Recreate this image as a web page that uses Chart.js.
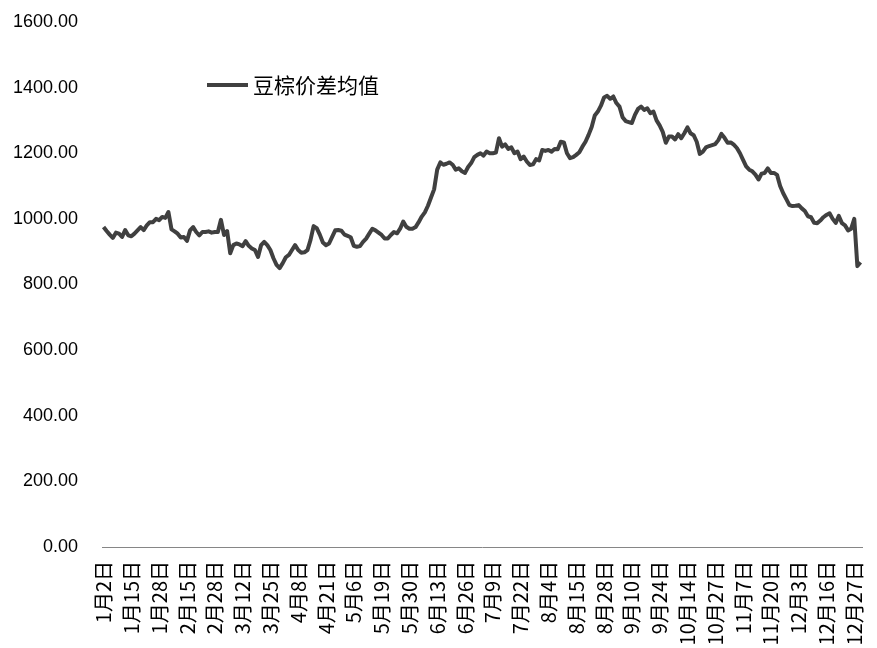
<!DOCTYPE html>
<html>
<head>
<meta charset="utf-8">
<script src="https://cdn.jsdelivr.net/npm/chart.js@4/dist/chart.umd.min.js"></script>
<style>
html,body{margin:0;padding:0;background:#fff;}
#wrap{width:877px;height:648px;position:relative;}
</style>
</head>
<body>
<div id="wrap"><canvas id="c" width="877" height="648"></canvas></div>
<script>
const seriesName = '豆棕价差均值';
const tickLabels = ['1月2日','1月15日','1月28日','2月15日','2月28日','3月12日','3月25日','4月8日','4月21日','5月6日','5月19日','5月30日','6月13日','6月26日','7月9日','7月22日','8月4日','8月15日','8月28日','9月10日','9月24日','10月14日','10月27日','11月7日','11月20日','12月3日','12月16日','12月27日'];
const tickEvery = 9;
const spread = [
  975, 963, 952, 942, 958, 955, 945, 966, 950, 947,
  955, 965, 975, 966, 980, 990, 990, 1000, 996, 1006,
  1003, 1021, 968, 962, 955, 943, 945, 933, 965, 975,
  960, 950, 960, 960, 962, 958, 960, 960, 997, 951,
  963, 895, 920, 925, 922, 917, 932, 918, 910, 905,
  884, 920, 930, 920, 905, 880, 860, 850, 865, 883,
  890, 905, 920, 905, 897, 898, 905, 936, 978, 972,
  952, 928, 920, 925, 945, 965, 966, 964, 952, 948,
  944, 918, 915, 917, 930, 940, 955, 970, 965, 958,
  951, 940, 940, 951, 960, 956, 970, 992, 976, 970,
  970, 975, 990, 1007, 1020, 1040, 1065, 1090, 1150, 1172,
  1165, 1168, 1172, 1165, 1150, 1154, 1145, 1140, 1158, 1170,
  1188, 1195, 1200, 1193, 1205, 1200, 1200, 1202, 1246, 1220,
  1227, 1213, 1218, 1200, 1205, 1182, 1190, 1175, 1164, 1166,
  1182, 1178, 1210, 1207, 1210, 1205, 1213, 1212, 1235, 1233,
  1200, 1185, 1188, 1195, 1203, 1220, 1235, 1256, 1280, 1315,
  1327, 1345, 1370, 1375, 1366, 1373, 1353, 1342, 1310, 1298,
  1295, 1292, 1317, 1335, 1342, 1332, 1337, 1322, 1327, 1300,
  1285, 1265, 1232, 1251, 1251, 1242, 1258, 1246, 1261, 1279,
  1261, 1255, 1235, 1198, 1205, 1218, 1222, 1225, 1228, 1240,
  1259, 1247, 1232, 1233, 1226, 1216, 1200, 1180, 1160, 1150,
  1145, 1135, 1120, 1138, 1140, 1154, 1140, 1140, 1134, 1100,
  1078, 1060, 1042, 1039, 1040, 1042, 1032, 1024, 1008, 1005,
  988, 987, 995, 1005, 1012, 1017, 1000, 988, 1009, 987,
  980, 965, 970, 1000, 856, 868
];
const categories = spread.map((_, i) => (i % tickEvery === 0 && tickLabels[i / tickEvery]) ? tickLabels[i / tickEvery] : '');

const lineColor = '#404040';

const legendPlugin = {
  id: 'customLegend',
  afterDraw(chart) {
    const ctx = chart.ctx;
    ctx.save();
    ctx.strokeStyle = lineColor;
    ctx.lineWidth = 4;
    ctx.lineCap = 'butt';
    ctx.beginPath();
    ctx.moveTo(207, 85);
    ctx.lineTo(248, 85);
    ctx.stroke();
    ctx.fillStyle = '#000';
    ctx.font = '21px "Noto Sans CJK SC"';
    ctx.textBaseline = 'middle';
    ctx.textAlign = 'left';
    ctx.fillText(seriesName, 253, 85);
    ctx.restore();
  }
};

new Chart(document.getElementById('c'), {
  type: 'line',
  data: {
    labels: categories,
    datasets: [{
      label: seriesName,
      data: spread,
      borderColor: lineColor,
      backgroundColor: lineColor,
      borderWidth: 4,
      pointRadius: 0,
      pointHoverRadius: 0,
      tension: 0,
      borderJoinStyle: 'round',
      fill: false
    }]
  },
  options: {
    responsive: false,
    animation: false,
    devicePixelRatio: 1,
    layout: { padding: { top: 22, right: 15, left: 0, bottom: 0 } },
    plugins: {
      legend: { display: false },
      tooltip: { enabled: false }
    },
    scales: {
      x: {
        type: 'category',
        offset: true,
        grid: { display: false, drawTicks: false },
        border: { display: true, color: '#868686', width: 1 },
        ticks: {
          autoSkip: false,
          minRotation: 90,
          maxRotation: 90,
          padding: 14,
          color: '#000',
          font: { family: '"Noto Sans CJK SC"', size: 20 }
        },
        afterFit(scale) {
          scale.height = 101;
          scale.paddingLeft = 0;
          scale.paddingRight = 0;
        }
      },
      y: {
        min: 0,
        max: 1600,
        grid: { display: false, drawTicks: false },
        border: { display: false },
        ticks: {
          stepSize: 200,
          padding: 24,
          color: '#000',
          font: { family: '"Liberation Sans"', size: 18 },
          callback: v => Number(v).toFixed(2)
        },
        afterFit(scale) {
          scale.width = 102;
          scale.paddingTop = 0;
          scale.paddingBottom = 0;
        }
      }
    }
  },
  plugins: [legendPlugin]
});
</script>
</body>
</html>
